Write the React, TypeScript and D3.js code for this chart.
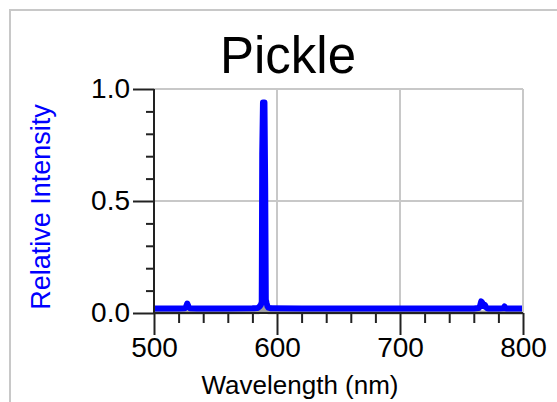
import * as d3 from "d3"
import { useEffect, useRef } from "react"

// spectrum readings (nm, relative intensity)
const wavelengths = [
  500, 520, 525, 526, 527, 528, 529, 535, 560, 580, 584, 585, 586, 587, 587.6,
  588.0, 588.6, 589.8, 590.4, 590.9, 591.5, 592.2, 593, 595, 620, 700, 760,
  764, 765, 766, 767, 768, 769, 770, 771, 772, 780, 784, 785, 786, 790, 800,
]
const intensity = [
  0.02, 0.02, 0.021, 0.028, 0.042, 0.03, 0.021, 0.02, 0.02, 0.021, 0.022,
  0.025, 0.03, 0.038, 0.05, 0.71, 0.94, 0.94, 0.56, 0.06, 0.045, 0.03,
  0.024, 0.021, 0.02, 0.02, 0.02, 0.022, 0.03, 0.052, 0.045, 0.03,
  0.036, 0.025, 0.021, 0.02, 0.02, 0.021, 0.029, 0.02, 0.02, 0.02,
]
// dark / reference trace underneath
const refWavelengths = [500, 585, 587, 589, 591, 593, 800]
const refIntensity = [0.002, 0.003, 0.01, 0.022, 0.01, 0.003, 0.002]

const xMajor = [500, 600, 700, 800]
const yMajor = [0, 0.5, 1.0]

const App = () => {
  const ref = useRef(null)
  const width = 557
  const height = 402

  useEffect(() => {
    const margin = { top: 89, left: 154, right: 34, bottom: 89 }
    const innerWidth = width - margin.left - margin.right
    const innerHeight = height - margin.top - margin.bottom

    const svg = d3.select(ref.current)
    svg.selectAll("*").remove()
    svg.attr("width", width).attr("height", height)

    const font = "'Liberation Sans', Arial, sans-serif"

    // outer frame
    svg
      .append("rect")
      .attr("x", 10)
      .attr("y", 10)
      .attr("width", 700)
      .attr("height", 600)
      .attr("fill", "white")
      .attr("stroke", "#c8c8c8")
      .attr("stroke-width", 2)

    svg
      .append("text")
      .attr("x", 288)
      .attr("y", 73)
      .attr("text-anchor", "middle")
      .style("font-family", font)
      .style("font-size", "51px")
      .attr("fill", "#000")
      .text("Pickle")

    const g = svg
      .append("g")
      .attr("transform", `translate(${margin.left},${margin.top})`)

    const x = d3.scaleLinear().domain([500, 800]).range([0, innerWidth])
    const y = d3.scaleLinear().domain([0, 1]).range([innerHeight, 0])

    // grid
    g.append("g")
      .selectAll("line.vg")
      .data(xMajor.slice(1))
      .enter()
      .append("line")
      .attr("x1", (d) => x(d))
      .attr("x2", (d) => x(d))
      .attr("y1", 0)
      .attr("y2", innerHeight)
      .attr("stroke", "#c8c8c8")
      .attr("stroke-width", 2)
    g.append("g")
      .selectAll("line.hg")
      .data(yMajor.slice(1))
      .enter()
      .append("line")
      .attr("x1", 0)
      .attr("x2", innerWidth)
      .attr("y1", (d) => y(d))
      .attr("y2", (d) => y(d))
      .attr("stroke", "#c8c8c8")
      .attr("stroke-width", 2)

    // data
    const line = d3
      .line()
      .x((d) => x(d[0]))
      .y((d) => y(d[1]))

    g.append("path")
      .datum(refWavelengths.map((w, i) => [w, refIntensity[i]]))
      .attr("d", line)
      .attr("fill", "none")
      .attr("stroke", "#a0a0a0")
      .attr("stroke-width", 4)

    g.append("path")
      .datum(wavelengths.map((w, i) => [w, intensity[i]]))
      .attr("d", line)
      .attr("fill", "none")
      .attr("stroke", "#0000ff")
      .attr("stroke-width", 6)
      .attr("stroke-linejoin", "round")

    // axes
    const yAxis = g
      .append("g")
      .call(
        d3
          .axisLeft(y)
          .tickValues(yMajor)
          .tickSize(21)
          .tickPadding(3)
          .tickFormat(d3.format(".1f"))
      )
    yAxis.select(".domain").remove()
    yAxis.selectAll("line").attr("stroke", "#222").attr("stroke-width", 2)
    yAxis
      .selectAll("text")
      .style("font-family", font)
      .style("font-size", "28px")
      .attr("fill", "#000")

    const yMinor = g
      .append("g")
      .call(
        d3
          .axisLeft(y)
          .tickValues(d3.range(1, 10).filter((v) => v !== 5).map((v) => v / 10))
          .tickSize(8)
          .tickFormat(() => "")
      )
    yMinor.select(".domain").remove()
    yMinor.selectAll("line").attr("stroke", "#222").attr("stroke-width", 2)

    const xAxis = g
      .append("g")
      .attr("transform", `translate(0,${innerHeight})`)
      .call(d3.axisBottom(x).tickValues(xMajor).tickSize(22).tickPadding(2))
    xAxis.select(".domain").remove()
    xAxis.selectAll("line").attr("stroke", "#222").attr("stroke-width", 2)
    xAxis
      .selectAll("text")
      .style("font-family", font)
      .style("font-size", "28px")
      .attr("fill", "#000")

    const xMinor = g
      .append("g")
      .attr("transform", `translate(0,${innerHeight})`)
      .call(
        d3
          .axisBottom(x)
          .tickValues(d3.range(520, 800, 20).filter((v) => v % 100 !== 0))
          .tickSize(10)
          .tickFormat(() => "")
      )
    xMinor.select(".domain").remove()
    xMinor.selectAll("line").attr("stroke", "#222").attr("stroke-width", 2)

    // frame
    g.append("line")
      .attr("x1", 0)
      .attr("x2", innerWidth)
      .attr("y1", 0)
      .attr("y2", 0)
      .attr("stroke", "#c8c8c8")
      .attr("stroke-width", 2)
    g.append("line")
      .attr("x1", innerWidth)
      .attr("x2", innerWidth)
      .attr("y1", 0)
      .attr("y2", innerHeight)
      .attr("stroke", "#c8c8c8")
      .attr("stroke-width", 2)
    g.append("line")
      .attr("x1", 0)
      .attr("x2", 0)
      .attr("y1", 0)
      .attr("y2", innerHeight)
      .attr("stroke", "#222")
      .attr("stroke-width", 2)
    g.append("line")
      .attr("x1", 0)
      .attr("x2", innerWidth)
      .attr("y1", innerHeight)
      .attr("y2", innerHeight)
      .attr("stroke", "#222")
      .attr("stroke-width", 2)

    // axis titles
    svg
      .append("text")
      .attr("x", 300)
      .attr("y", 394)
      .attr("text-anchor", "middle")
      .style("font-family", font)
      .style("font-size", "26px")
      .attr("fill", "#000")
      .text("Wavelength (nm)")

    svg
      .append("text")
      .attr("transform", `translate(50,207) rotate(-90)`)
      .attr("text-anchor", "middle")
      .style("font-family", font)
      .style("font-size", "27px")
      .attr("fill", "#0000ff")
      .text("Relative Intensity")
  }, [])

  return (
    <svg
      ref={ref}
      style={{ position: "absolute", left: 0, top: 0, display: "block" }}
    ></svg>
  )
}

export default App
